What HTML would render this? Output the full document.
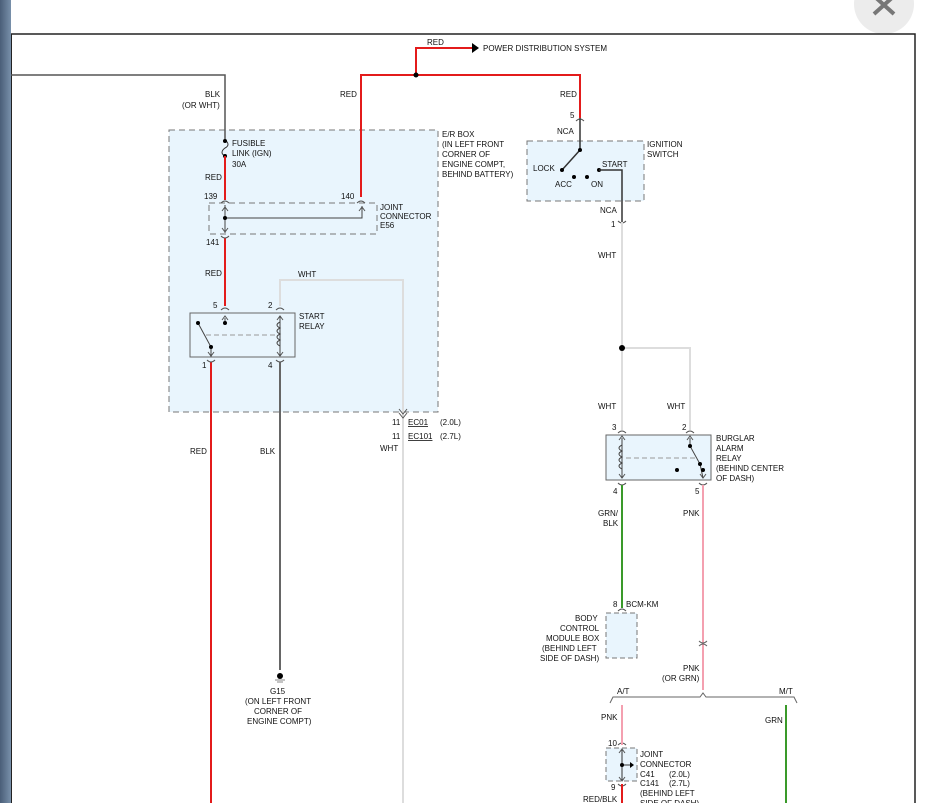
<!DOCTYPE html>
<html><head><meta charset="utf-8"><style>
html,body{margin:0;padding:0;width:937px;height:803px;overflow:hidden;background:#fff}
svg{display:block}
text{font-family:"Liberation Sans",sans-serif;font-size:8px;fill:#111}
</style></head><body>
<svg width="937" height="803" viewBox="0 0 937 803" xmlns="http://www.w3.org/2000/svg">
<defs>
<linearGradient id="lg" x1="0" x2="1"><stop offset="0" stop-color="#4a5e78"/><stop offset="1" stop-color="#7890aa"/></linearGradient>
</defs>
<rect x="0" y="0" width="11" height="803" fill="url(#lg)"/>
<circle cx="884" cy="4" r="30" fill="#ececec"/>
<path d="M874 -4 L894 14 M894 -4 L874 14" stroke="#777" stroke-width="4"/>
<path d="M11 34 H915 V803" fill="none" stroke="#222" stroke-width="1.5"/>
<line x1="11.5" y1="34" x2="11.5" y2="803" stroke="#222" stroke-width="1"/>

<!-- boxes -->
<rect x="169" y="130" width="269" height="282" fill="#e9f5fd" stroke="#777" stroke-dasharray="6,4"/>
<rect x="209" y="203" width="168" height="31" fill="#e9f5fd" stroke="#777" stroke-dasharray="6,4"/>
<rect x="190" y="313" width="105" height="44" fill="#e9f5fd" stroke="#666"/>
<rect x="527" y="141" width="117" height="60" fill="#e9f5fd" stroke="#777" stroke-dasharray="6,4"/>
<rect x="606" y="435" width="105" height="45" fill="#e9f5fd" stroke="#666"/>
<rect x="606" y="613" width="31" height="45" fill="#e9f5fd" stroke="#777" stroke-dasharray="5,3"/>
<rect x="606" y="748" width="31" height="33" fill="#e9f5fd" stroke="#777" stroke-dasharray="5,3"/>

<!-- wires -->
<path d="M11 75 H225 V140" fill="none" stroke="#555" stroke-width="1.5"/>
<path d="M361 197 V75 H580 V118" fill="none" stroke="#e31b1b" stroke-width="2"/>
<path d="M416 75 V48 H472" fill="none" stroke="#e31b1b" stroke-width="2"/>
<path d="M472 43 L479 48 L472 53Z" fill="#000"/>
<circle cx="416" cy="75" r="2.5" fill="#000"/>
<path d="M225 140 c4 3 4 6 0 8 c-4 3 -4 6 0 8" fill="none" stroke="#333"/>
<circle cx="225" cy="141" r="2" fill="#000"/><circle cx="225" cy="156" r="2" fill="#000"/>
<line x1="225" y1="156" x2="225" y2="200" stroke="#e31b1b" stroke-width="2"/>
<line x1="225" y1="238" x2="225" y2="306" stroke="#e31b1b" stroke-width="2"/>
<path d="M225 205 V233 M225 218 H362 V206" fill="none" stroke="#444"/>
<circle cx="225" cy="218" r="2" fill="#000"/>
<path d="M280 306 V280 H403 V803" fill="none" stroke="#ddd" stroke-width="2"/>
<line x1="211" y1="362" x2="211" y2="803" stroke="#e31b1b" stroke-width="2"/>
<line x1="280" y1="362" x2="280" y2="670" stroke="#666" stroke-width="2"/>
<circle cx="280" cy="676" r="3" fill="#000"/><path d="M275 680 H285 M277 682 H283" stroke="#888"/>
<!-- connector arcs -->
<g fill="none" stroke="#555" stroke-width="1">
<path d="M221 203 q4 -4 8 0 M357 203 q4 -4 8 0 M221 236 q4 4 8 0"/>
<path d="M221 310 q4 -4 8 0 M276 310 q4 -4 8 0 M207 360 q4 4 8 0 M276 360 q4 4 8 0"/>
<path d="M399 409 l4 5 l4 -5 M399 413 l4 5 l4 -5"/>
<path d="M576 121 q4 -4 8 0 M618 221 q4 4 8 0"/>
<path d="M618 433 q4 -4 8 0 M686 433 q4 -4 8 0 M618 483 q4 4 8 0 M699 483 q4 4 8 0"/>
<path d="M618 611 q4 -4 8 0 M618 745 q4 -4 8 0 M618 784 q4 4 8 0"/>
<path d="M222 211 l3 -4 l3 4 M222 228 l3 4 l3 -4 M359 211 l3 -4 l3 4 M222 320 l3 -4 l3 4 M277 320 l3 -4 l3 4 M208 352 l3 4 l3 -4 M277 352 l3 4 l3 -4"/>
<path d="M619 440 l3 -4 l3 4 M687 440 l3 -4 l3 4 M619 474 l3 4 l3 -4 M700 474 l3 4 l3 -4 M619 753 l3 -4 l3 4 M619 777 l3 4 l3 -4"/>
</g>
<!-- start relay internals -->
<path d="M225 318 V325" stroke="#444"/><circle cx="225" cy="323" r="2" fill="#000"/>
<path d="M198 323 L211 347 V357" stroke="#444" fill="none"/><circle cx="198" cy="323" r="2" fill="#000"/><circle cx="211" cy="347" r="2" fill="#000"/>
<path d="M206 335 H275" stroke="#999" stroke-dasharray="5,3"/>
<path d="M280 316 V356 M280 322 c-4 2 -4 4 0 6 c-4 2 -4 4 0 6 c-4 2 -4 4 0 6 c-4 2 -4 4 0 6" stroke="#444" fill="none"/>

<!-- ignition -->
<line x1="580" y1="118" x2="580" y2="150" stroke="#333" stroke-width="1.5"/>
<path d="M580 150 L562 170" stroke="#333" stroke-width="1.5"/>
<circle cx="580" cy="150" r="2" fill="#000"/><circle cx="562" cy="170" r="2" fill="#000"/>
<circle cx="574" cy="177" r="2" fill="#000"/><circle cx="587" cy="177" r="2" fill="#000"/><circle cx="599" cy="170" r="2" fill="#000"/>
<path d="M599 170 H622 V222" fill="none" stroke="#333" stroke-width="1.5"/>
<line x1="622" y1="222" x2="622" y2="430" stroke="#ddd" stroke-width="2"/>
<path d="M622 348 H690 V430" fill="none" stroke="#ddd" stroke-width="2"/>
<circle cx="622" cy="348" r="3" fill="#000"/>
<!-- burglar relay internals -->
<path d="M622 438 V478 M622 445 c-4 2 -4 4 0 6 c-4 2 -4 4 0 6 c-4 2 -4 4 0 6 c-4 2 -4 4 0 6" stroke="#444" fill="none"/>
<path d="M626 458 H695" stroke="#999" stroke-dasharray="5,3"/>
<path d="M690 438 V446 L700 464 L703 478" stroke="#444" fill="none"/>
<circle cx="690" cy="446" r="2" fill="#000"/><circle cx="700" cy="464" r="2" fill="#000"/><circle cx="703" cy="470" r="2" fill="#000"/><circle cx="677" cy="470" r="2" fill="#000"/>
<line x1="622" y1="485" x2="622" y2="608" stroke="#3a9a2a" stroke-width="2"/>
<line x1="703" y1="485" x2="703" y2="690" stroke="#f4a0b0" stroke-width="2"/>
<path d="M699 641 q4 4 8 0 M699 646 q4 -4 8 0" fill="none" stroke="#666"/>
<path d="M610 703 L613 697 H700 L703 693 L706 697 H794 L797 703" fill="none" stroke="#666"/>
<line x1="622" y1="705" x2="622" y2="745" stroke="#f4a0b0" stroke-width="2"/>
<line x1="786" y1="705" x2="786" y2="803" stroke="#3a9a2a" stroke-width="2"/>
<path d="M622 750 V780 M622 765 H632" stroke="#333"/><circle cx="622" cy="765" r="2" fill="#000"/>
<path d="M630 762 l4 3 l-4 3z" fill="#000"/>
<line x1="622" y1="784" x2="622" y2="803" stroke="#e31b1b" stroke-width="2"/>

<!-- labels -->
<text x="427" y="45">RED</text>
<text x="483" y="51">POWER DISTRIBUTION SYSTEM</text>
<text x="205" y="97">BLK</text><text x="182" y="108">(OR WHT)</text>
<text x="340" y="97">RED</text><text x="560" y="97">RED</text>
<text x="570" y="118">5</text><text x="557" y="134">NCA</text>
<text x="232" y="146">FUSIBLE</text><text x="232" y="156">LINK (IGN)</text><text x="232" y="167">30A</text>
<text x="442" y="137">E/R BOX</text><text x="442" y="147">(IN LEFT FRONT</text><text x="442" y="157">CORNER OF</text><text x="442" y="167">ENGINE COMPT,</text><text x="442" y="177">BEHIND BATTERY)</text>
<text x="647" y="147">IGNITION</text><text x="647" y="157">SWITCH</text>
<text x="533" y="171">LOCK</text><text x="555" y="187">ACC</text><text x="591" y="187">ON</text><text x="602" y="167">START</text>
<text x="205" y="180">RED</text>
<text x="204" y="199">139</text><text x="341" y="199">140</text>
<text x="380" y="210">JOINT</text><text x="380" y="219">CONNECTOR</text><text x="380" y="228">E56</text>
<text x="600" y="213">NCA</text><text x="611" y="227">1</text>
<text x="206" y="245">141</text>
<text x="205" y="276">RED</text><text x="298" y="277">WHT</text>
<text x="598" y="258">WHT</text>
<text x="213" y="308">5</text><text x="268" y="308">2</text>
<text x="299" y="319">START</text><text x="299" y="329">RELAY</text>
<text x="202" y="368">1</text><text x="268" y="368">4</text>
<text x="598" y="409">WHT</text><text x="667" y="409">WHT</text>
<text x="392" y="425">11</text><text x="408" y="425" text-decoration="underline">EC01</text><text x="440" y="425">(2.0L)</text>
<text x="392" y="439">11</text><text x="408" y="439" text-decoration="underline">EC101</text><text x="440" y="439">(2.7L)</text>
<text x="380" y="451">WHT</text>
<text x="612" y="430">3</text><text x="682" y="430">2</text>
<text x="716" y="441">BURGLAR</text><text x="716" y="451">ALARM</text><text x="716" y="461">RELAY</text><text x="716" y="471">(BEHIND CENTER</text><text x="716" y="481">OF DASH)</text>
<text x="190" y="454">RED</text><text x="260" y="454">BLK</text>
<text x="613" y="494">4</text><text x="695" y="494">5</text>
<text x="598" y="516">GRN/</text><text x="603" y="526">BLK</text><text x="683" y="516">PNK</text>
<text x="613" y="607">8</text><text x="626" y="607">BCM-KM</text>
<text x="575" y="621">BODY</text><text x="560" y="631">CONTROL</text><text x="546" y="641">MODULE BOX</text><text x="542" y="651">(BEHIND LEFT</text><text x="540" y="661">SIDE OF DASH)</text>
<text x="683" y="671">PNK</text><text x="662" y="681">(OR GRN)</text>
<text x="617" y="694">A/T</text><text x="779" y="694">M/T</text>
<text x="601" y="720">PNK</text><text x="765" y="723">GRN</text>
<text x="270" y="694">G15</text><text x="245" y="704">(ON LEFT FRONT</text><text x="254" y="714">CORNER OF</text><text x="247" y="724">ENGINE COMPT)</text>
<text x="608" y="746">10</text>
<text x="640" y="757">JOINT</text><text x="640" y="767">CONNECTOR</text><text x="640" y="777">C41</text><text x="669" y="777">(2.0L)</text><text x="640" y="786">C141</text><text x="669" y="786">(2.7L)</text><text x="640" y="796">(BEHIND LEFT</text><text x="640" y="806">SIDE OF DASH)</text>
<text x="611" y="790">9</text><text x="583" y="802">RED/BLK</text>
</svg>
</body></html>
